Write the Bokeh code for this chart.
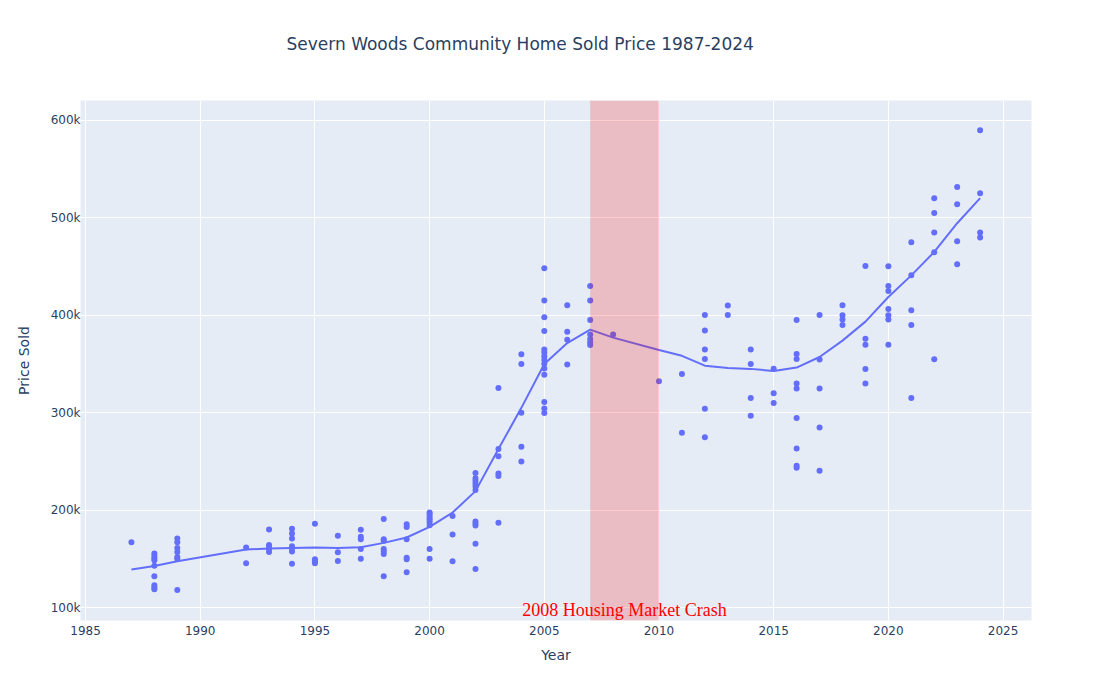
from bokeh.plotting import figure
from bokeh.models import ColumnDataSource, FixedTicker, NumeralTickFormatter, BoxAnnotation, Label, Title
from bokeh.embed import file_html
from bokeh.resources import INLINE

# Sale years and prices (in thousands of dollars) per year
sale_years = [1987, 1988, 1989, 1992, 1993, 1994, 1995, 1996, 1997, 1998, 1999, 2000,
              2001, 2002, 2003, 2004, 2005, 2006, 2007, 2008, 2010, 2011, 2012, 2013,
              2014, 2015, 2016, 2017, 2018, 2019, 2020, 2021, 2022, 2023, 2024]
sale_prices_k = [
    [167],
    [155.5, 153, 150.5, 148.5, 143, 132, 123, 120.5, 118.7],
    [171, 167, 161, 157, 152, 150, 118],
    [161.6, 145.5],
    [180, 164.3, 162.3, 160, 157],
    [181, 176, 171, 163, 160.5, 157.5, 145],
    [186, 149.5, 147.5, 145.5],
    [173.6, 156.8, 147.8],
    [179.8, 172.6, 170, 160, 150],
    [191, 170.2, 168.5, 160.2, 157.5, 155, 132.2],
    [185.6, 182.8, 170, 151, 149.6, 136.2],
    [197.6, 195.9, 193.8, 191.5, 189.7, 187.4, 184.6, 160, 150],
    [194.1, 175, 147.6],
    [238, 232.6, 230.2, 227.4, 224.6, 220.6, 188.4, 186.3, 184.2, 165.4, 139.6],
    [325.4, 262.7, 255.2, 237.7, 235, 187],
    [360, 350, 300, 265, 250],
    [448.3, 415.1, 398, 383.9, 365, 361.7, 357.9, 354.4, 350.3, 345.5, 339, 310.9, 304.4, 299.7],
    [410.3, 383.2, 375, 349.6],
    [430.1, 415.1, 395.2, 380.2, 375.7, 372.3, 369.5],
    [380.2],
    [332.2],
    [339.7, 279.4],
    [400.3, 384.3, 365, 355.1, 304, 274.9],
    [410, 400.3],
    [365, 349.9, 315.1, 297],
    [345.1, 319.9, 310],
    [395.2, 360.2, 355.1, 330, 324.9, 294.6, 263.3, 245.5, 243.5],
    [400.3, 354.7, 324.9, 284.8, 240.3],
    [410.3, 400, 395.6, 390.1],
    [450.7, 376, 369.8, 344.8, 330],
    [450.3, 430.1, 424.9, 406.4, 400, 395.6, 369.8],
    [475.1, 441, 405.2, 390.1, 315.1],
    [520.2, 505.1, 484.9, 464.8, 354.8],
    [531.6, 513.9, 476, 452.4],
    [589.9, 525.3, 484.9, 479.8],
]

# LOWESS trend line values (thousands)
trend_years = sale_years
trend_values_k = [139, 142.7, 147.6, 159.6, 160.6, 161.2, 161.7, 161.2, 161.8, 166.4, 171.9,
                  182.8, 197.5, 219.5, 262.7, 305, 350, 371.5, 385.3, 377.1, 364.3, 358.4,
                  348.3, 346, 345, 342.9, 346.3, 357.2, 374, 393.5, 418.8, 441, 465, 494.5, 520.3]

x_ticks = [1985, 1990, 1995, 2000, 2005, 2010, 2015, 2020, 2025]
y_ticks = [100000, 200000, 300000, 400000, 500000, 600000]
crash_start, crash_end = 2007, 2010
title_text = "Severn Woods Community Home Sold Price 1987-2024"

xs, ys = [], []
for yr, prices in zip(sale_years, sale_prices_k):
    for pr in prices:
        xs.append(yr)
        ys.append(pr * 1000)
pts = ColumnDataSource(dict(x=xs, y=ys))
trend = ColumnDataSource(dict(x=trend_years, y=[v * 1000 for v in trend_values_k]))

FONT = "DejaVu Sans"
TXT = "#2a3f5f"

p = figure(width=1103, height=692, output_backend="svg", toolbar_location=None,
           x_range=(1984.78, 2026.24), y_range=(86700, 620500),
           min_border_left=80, min_border_right=72, min_border_top=100, min_border_bottom=72,
           background_fill_color="#E5ECF6", border_fill_color="white", outline_line_color=None)

p.xaxis.ticker = FixedTicker(ticks=x_ticks)
p.yaxis.ticker = FixedTicker(ticks=y_ticks)
p.yaxis.formatter = NumeralTickFormatter(format="0a")
for ax in (p.xaxis, p.yaxis):
    ax.axis_line_color = None
    ax.major_tick_line_color = None
    ax.minor_tick_line_color = None
    ax.major_tick_out = 0
    ax.major_tick_in = 0
    ax.major_label_text_font = FONT
    ax.major_label_text_font_size = "12px"
    ax.major_label_text_color = TXT
    ax.axis_label_text_font = FONT
    ax.axis_label_text_font_size = "14px"
    ax.axis_label_text_font_style = "normal"
    ax.axis_label_text_color = TXT
p.xaxis.axis_label = "Year"
p.yaxis.axis_label = "Price Sold"
p.xaxis.major_label_standoff = 5
p.yaxis.major_label_standoff = 0
p.xaxis.axis_label_standoff = 9
p.yaxis.axis_label_standoff = 16

p.grid.grid_line_color = "white"
p.grid.grid_line_width = 1
p.xgrid.ticker = FixedTicker(ticks=x_ticks)
p.ygrid.ticker = FixedTicker(ticks=y_ticks)

p.scatter("x", "y", source=pts, size=6, color="#636efa", line_color=None)
p.line("x", "y", source=trend, line_width=2, color="#636efa")

p.add_layout(BoxAnnotation(left=crash_start, right=crash_end, fill_color="red", fill_alpha=0.2,
                           line_color=None))
p.add_layout(Label(x=(crash_start + crash_end) / 2, y=86700, y_offset=1,
                   text="2008 Housing Market Crash",
                   text_align="center", text_baseline="bottom", text_font="Liberation Serif",
                   text_font_size="18px", text_color="red"))

# spacer panel between the plot area and the title, then the title itself
p.add_layout(Title(text=" ", text_font_size="1px", standoff=44), "above")
p.add_layout(Title(text=title_text, text_font=FONT, text_font_size="17px",
                   text_font_style="normal", text_color=TXT, align="left", offset=206,
                   standoff=0), "above")

open("out.html", "w").write(file_html(p, INLINE))
